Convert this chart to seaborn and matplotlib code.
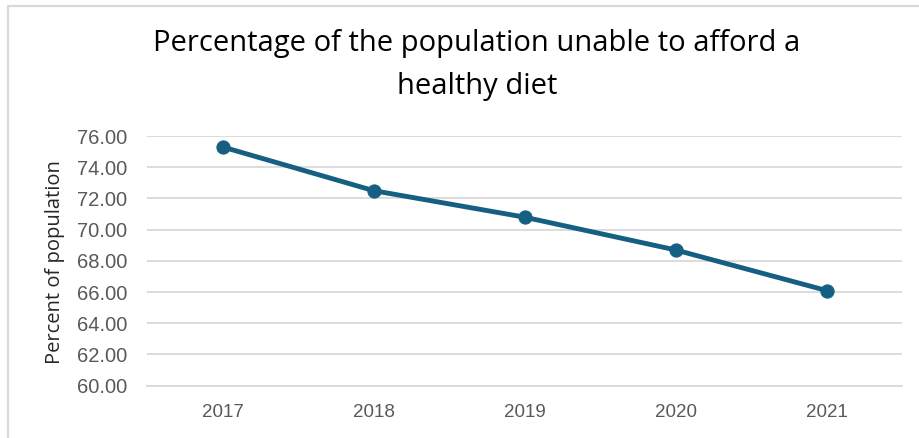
import matplotlib
matplotlib.use("Agg")
import matplotlib.pyplot as plt
from matplotlib.lines import Line2D
import seaborn as sns
import pandas as pd

# Share of the population that cannot afford a healthy diet
years = ["2017", "2018", "2019", "2020", "2021"]
percent = [75.3, 72.5, 70.8, 68.7, 66.1]
y_ticks = [60, 62, 64, 66, 68, 70, 72, 74, 76]

title_lines = ["Percentage of the population unable to afford a", "healthy diet"]
y_label = "Percent of population"

line_color = "#156082"
grid_color = "#D9D9D9"
tick_color = "#595959"

sns.set_theme(style="white")
plt.rcParams["font.family"] = ["Liberation Sans", "DejaVu Sans"]

df = pd.DataFrame({"year": years, "percent": percent})

W, H = 919, 438
fig = plt.figure(figsize=(W / 100, H / 100), dpi=100)
ax = fig.add_axes([147 / W, (H - 385.7) / H, (902 - 147) / W, (385.7 - 136) / H])

sns.lineplot(data=df, x="year", y="percent", ax=ax, color=line_color,
             linewidth=3.5, marker="o", markersize=9.5,
             markeredgecolor=line_color, markerfacecolor=line_color, zorder=3)

ax.set_xlim(-0.5, len(years) - 0.5)
ax.set_ylim(60, 76)
ax.set_yticks(y_ticks)
ax.set_yticklabels([f"{v:.2f}" for v in y_ticks])
ax.yaxis.grid(True, color=grid_color, linewidth=1.3)
ax.xaxis.grid(False)
for side in ["left", "right", "top"]:
    ax.spines[side].set_visible(False)
ax.spines["bottom"].set_color(grid_color)
ax.spines["bottom"].set_linewidth(1.3)
ax.tick_params(axis="both", length=0)
ax.tick_params(axis="y", pad=14, labelsize=14.5, labelcolor=tick_color)
ax.tick_params(axis="x", pad=13, labelsize=13.5, labelcolor=tick_color)
for lbl in ax.get_xticklabels():
    lbl.set_family(["Liberation Sans Narrow", "Liberation Sans"])

ax.set_xlabel("")
ax.set_ylabel(y_label, fontsize=14.5, color="#262626",
              family=["Open Sans", "DejaVu Sans"])
ax.yaxis.set_label_coords(55 / W, (H - 262) / H, transform=fig.transFigure)
ax.yaxis.label.set_verticalalignment("center")

# two-line chart title
for text, baseline in zip(title_lines, [51, 94]):
    fig.text(477 / W, 1 - baseline / H, text, ha="center", va="baseline",
             fontsize=21, color="#000000", family=["Open Sans", "DejaVu Sans"])

# thin chart-area border along the top and left edges
fig.add_artist(Line2D([8 / W, 8 / W], [0, 1 - 6 / H], transform=fig.transFigure,
                      color=grid_color, linewidth=1.6))
fig.add_artist(Line2D([8 / W, 1], [1 - 6 / H, 1 - 6 / H], transform=fig.transFigure,
                      color=grid_color, linewidth=1.6))

fig.savefig("out.png", dpi=100, facecolor="white")
